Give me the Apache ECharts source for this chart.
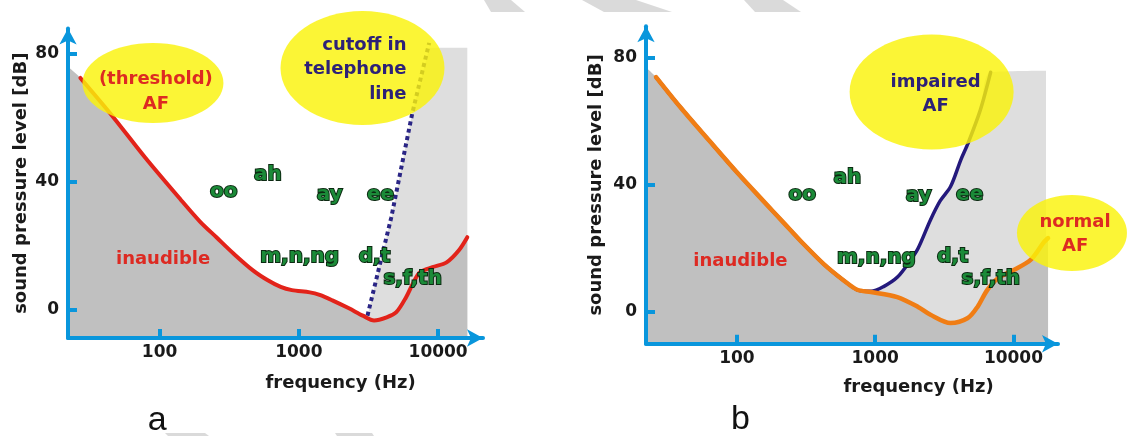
<!DOCTYPE html>
<html><head><meta charset="utf-8">
<script src="https://cdn.jsdelivr.net/npm/echarts@6/dist/echarts.min.js"></script>
<style>html,body{margin:0;padding:0;background:#fff}#c{width:1128px;height:436px}</style>
</head><body><div id="c"></div>
<script>
// ---------- data ----------
const xTicks = [100, 1000, 10000];
const yTicks = [0, 40, 80];

// panel a: hearing threshold (red)
const thrFreqA = [27,45,79,141,195,257,339,468,603,741,891,1200,1410,1740,2290,2880,3470,4270,5010,5890,6610,7410,9120,11500,14100,16200];
const thrDbA   = [72.5,61,47.5,34.5,27.5,22.5,17.5,12.2,9,7,6,5.3,4.5,2.8,0.3,-2,-3.5,-2.5,-0.9,3.8,8.2,11.6,13.2,14.7,18.5,22.6];
const fillStartA = [22, 76];
// panel a: telephone cutoff (dotted)
const cutoffFreqA = [3110, 4610, 6520, 8630];
const cutoffDbA   = [-2, 28.8, 61.4, 83.5];
// panel a: light band right of cutoff
const bandFreqA = [3110, 4610, 6520, 8630, 16200];
const bandDbA   = [-2, 28.8, 61.4, 82, 82];

// panel b: normal threshold (orange)
const normFreqB = [26,39,63,100,155,219,302,427,589,741,933,1445,2042,2512,3508,4677,5495,6457,7762,10000,13300,16600,17800];
const normDbB   = [74,64.5,54,44,35,28,21.5,15,10,7,6.3,4.7,1.6,-0.9,-3.5,-1.9,1.6,6.9,10.7,13.2,16.4,22,23.3];
const fillStartB = [22, 77];
// panel b: impaired threshold (navy)
const impFreqB = [26,39,63,100,155,219,302,427,589,741,933,1150,1450,1780,2040,2510,2950,3510,4170,4680,5750,6840];
const impDbB   = [74,64.5,54,44,35,28,21.5,15,10,7,6.5,8,11,16,20,29,35,39.5,48,53,63.5,75.5];
const bandCornerB = [17200, 76];

// phoneme labels
const phonemes = ['oo','ah','ay','ee','m,n,ng','d,t','s,f,th'];
const phonFreqA = [289, 598, 1663, 3855, 1014, 3491, 6561];
const phonDbA   = [36.7, 42, 36, 36, 16.3, 16.6, 9.7];
const phonFreqB = [297, 630, 2061, 4820, 1021, 3631, 6855];
const phonDbB   = [36.9, 42.2, 36.5, 36.9, 17, 17.3, 10.4];

// ---------- chart ----------
const chart = echarts.init(document.getElementById('c'), null, {renderer: 'canvas'});
const FONT = '"DejaVu Sans", sans-serif';
const BLUE = '#0996dc';
const DARK = '#1a1a1a';
const RED = '#dd2a22';
const NAVY = '#2d2177';
const GREEN = '#1b8a38';
const pairs = (f, d) => f.map((v, i) => [v, d[i]]);

function xAxis(g) {
  return {
    type: 'log', logBase: 10, gridIndex: g, min: 22, max: 21000, z: 5,
    axisLine: {show: true, onZero: false, symbol: ['none', 'arrow'], symbolSize: [13, 16], lineStyle: {color: BLUE, width: 4}},
    axisTick: {show: true, inside: true, length: 9, customValues: xTicks, lineStyle: {color: BLUE, width: 4}},
    axisLabel: {show: true, customValues: xTicks, margin: 6, color: DARK, fontFamily: FONT, fontWeight: 'bold', fontSize: 17,
      formatter: v => String(Math.round(v))},
    splitLine: {show: false}, minorTick: {show: false}, minorSplitLine: {show: false}
  };
}
function yAxis(g, min, max, gap) {
  return {
    type: 'value', gridIndex: g, min: min, max: max, z: 5,
    name: 'sound pressure level [dB]', nameLocation: 'middle', nameGap: gap,
    nameTextStyle: {fontFamily: FONT, fontWeight: 'bold', fontSize: 18, color: DARK},
    axisLine: {show: true, onZero: false, symbol: ['none', 'arrow'], symbolSize: [13, 16], lineStyle: {color: BLUE, width: 4}},
    axisTick: {show: true, inside: true, length: 9, customValues: yTicks, lineStyle: {color: BLUE, width: 4}},
    axisLabel: {show: true, customValues: yTicks, margin: 9, color: DARK, fontFamily: FONT, fontWeight: 'bold', fontSize: 17},
    splitLine: {show: false}
  };
}
function area(g, data, color, z, smooth) {
  return {type: 'line', xAxisIndex: g, yAxisIndex: g, data: data, smooth: smooth, showSymbol: false, silent: true, z: z,
    lineStyle: {width: 0, opacity: 0}, areaStyle: {color: color, opacity: 1, origin: 'start'}};
}
function line(g, data, color, width, type, z, smooth, cap) {
  return {type: 'line', xAxisIndex: g, yAxisIndex: g, data: data, smooth: smooth, showSymbol: false, silent: true, z: z,
    lineStyle: {color: color, width: width, type: type, cap: cap || 'round', join: 'round'}};
}

chart.setOption({
  animation: false,
  backgroundColor: '#ffffff',
  grid: [
    {left: 68, top: 28.5, width: 415, height: 309.5, outerBoundsMode: 'none', containLabel: false},
    {left: 646, top: 26.25, width: 412, height: 317.5, outerBoundsMode: 'none', containLabel: false}
  ],
  xAxis: [xAxis(0), xAxis(1)],
  yAxis: [yAxis(0, -9, 88, 38), yAxis(1, -10, 90, 41)],
  series: [
    area(0, pairs(bandFreqA, bandDbA), '#dedede', 1, false),
    area(0, [fillStartA].concat(pairs(thrFreqA, thrDbA)), '#c0c0c0', 2, 0.3),
    line(0, pairs(cutoffFreqA, cutoffDbA), '#2a2585', 4, [4, 3.5], 3, false, 'butt'),
    line(0, pairs(thrFreqA, thrDbA), '#e2231a', 4, 'solid', 4, 0.3),

    area(1, pairs(impFreqB, impDbB).concat([bandCornerB]), '#dedede', 1, 0.3),
    area(1, [fillStartB].concat(pairs(normFreqB, normDbB)), '#c0c0c0', 2, 0.3),
    line(1, pairs(impFreqB, impDbB), '#24197c', 3.5, 'solid', 3, 0.3),
    line(1, pairs(normFreqB, normDbB), '#f07d14', 4.5, 'solid', 4, 0.3)
  ]
});

// ---------- annotations (placed in data coordinates) ----------
const P = (g, f, d) => chart.convertToPixel({gridIndex: g}, [f, d]);
const YELLOW = 'rgba(250,243,10,0.82)';
const ellipses = [
  {g: 0, at: [89.6, 70.9], rx: 70.5, ry: 40},
  {g: 0, at: [2864, 75.6], rx: 82, ry: 57},
  {g: 1, at: [2559, 69.3], rx: 82, ry: 57.5},
  {g: 1, at: [26500, 24.9], rx: 55, ry: 38}
];
const texts = [
  {g: 0, at: [94, 68.1], text: '(threshold)\nAF', color: RED, size: 18, align: 'center'},
  {g: 0, at: [5930, 75.2], text: 'cutoff in\ntelephone\nline', color: NAVY, size: 18, align: 'right'},
  {g: 0, at: [106, 15.7], text: 'inaudible', color: RED, size: 18, align: 'center'},
  {g: 1, at: [2735, 68.5], text: 'impaired\nAF', color: NAVY, size: 18, align: 'center'},
  {g: 1, at: [27900, 24.4], text: 'normal\nAF', color: RED, size: 18, align: 'center'},
  {g: 1, at: [106, 16.1], text: 'inaudible', color: RED, size: 18, align: 'center'},
  {g: 0, at: [1995, -23.2], text: 'frequency (Hz)', color: DARK, size: 18, align: 'center'},
  {g: 1, at: [2061, -23.6], text: 'frequency (Hz)', color: DARK, size: 18, align: 'center'}
];
const graphics = [];
// faint watermark stripes of the scanned page
[[[484,0],[511,0],[525,12],[491,12]], [[582,0],[636,0],[672,12],[604,12]], [[744,0],[783,0],[801,12],[755,12]],
 [[165,433],[205,433],[209,436],[168,436]], [[335,433],[372,433],[374,436],[337,436]]].forEach(pts => {
  graphics.push({type: 'polygon', silent: true, z: 0, shape: {points: pts}, style: {fill: '#dadada'}});
});
ellipses.forEach(e => {
  const c = P(e.g, e.at[0], e.at[1]);
  graphics.push({type: 'ellipse', silent: true, z: 20, shape: {cx: c[0], cy: c[1], rx: e.rx, ry: e.ry}, style: {fill: YELLOW}});
});
texts.forEach(t => {
  const c = P(t.g, t.at[0], t.at[1]);
  graphics.push({type: 'text', silent: true, z: 30, x: c[0], y: c[1],
    style: {text: t.text, fill: t.color, font: 'bold ' + t.size + 'px ' + FONT, align: t.align, verticalAlign: 'middle', lineHeight: 24.5}});
});
[[0, phonFreqA, phonDbA], [1, phonFreqB, phonDbB]].forEach(([g, fs, ds]) => {
  phonemes.forEach((lab, i) => {
    const c = P(g, fs[i], ds[i]);
    graphics.push({type: 'text', silent: true, z: 30, x: c[0], y: c[1],
      style: {text: lab, fill: GREEN, stroke: '#0c2a12', lineWidth: 2, strokeFirst: true,
        font: 'bold 20px ' + FONT, align: 'center', verticalAlign: 'middle'}});
  });
});
[[0, 96, -34.8, 'a'], [1, 106, -34, 'b']].forEach(([g, f, d, s]) => {
  const c = P(g, f, d);
  graphics.push({type: 'text', silent: true, z: 30, x: c[0], y: c[1],
    style: {text: s, fill: '#111', font: '34px "Liberation Sans", Arial, sans-serif', align: 'center', verticalAlign: 'middle'}});
});
chart.setOption({graphic: graphics});
</script>
</body></html>
